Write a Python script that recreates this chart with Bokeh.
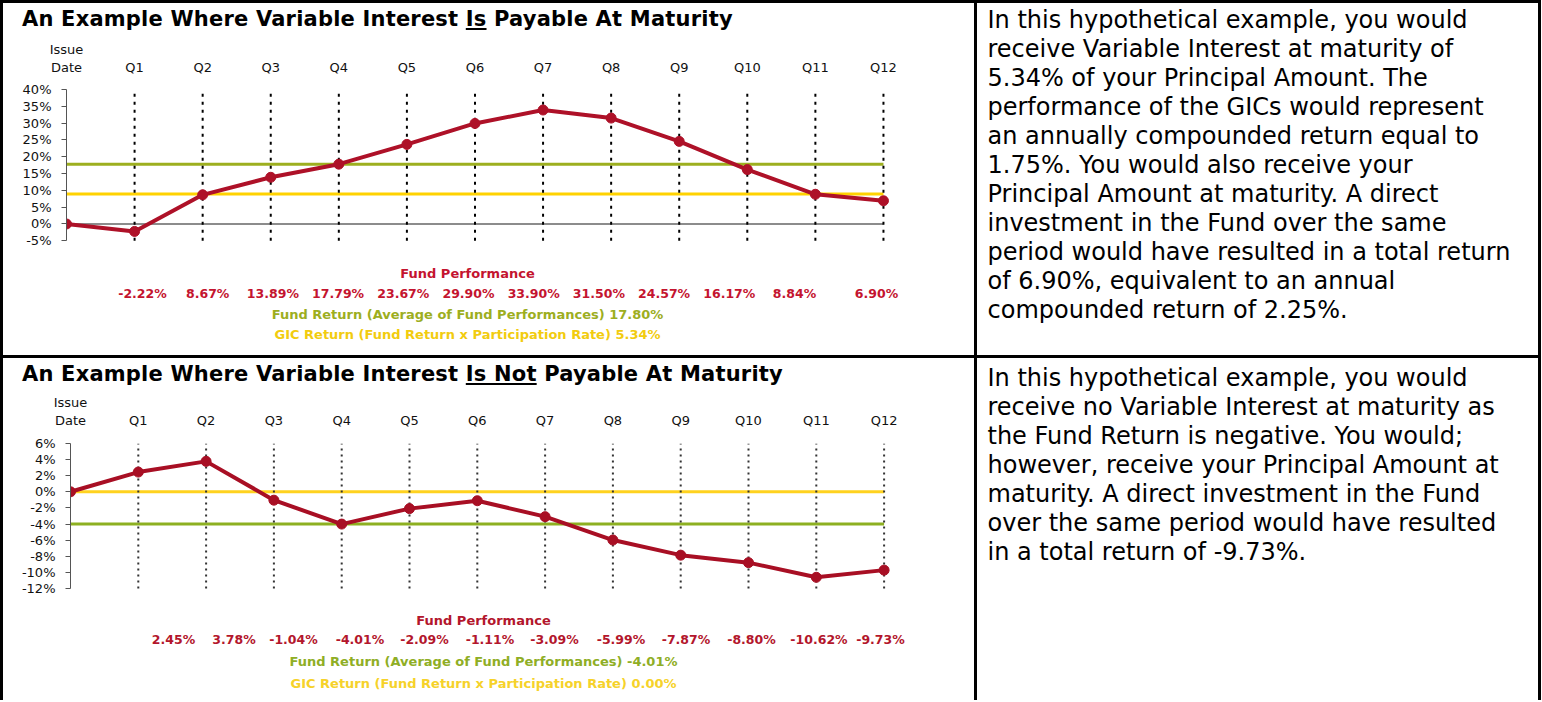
from bokeh.plotting import figure
from bokeh.layouts import row, column
from bokeh.models import Range1d, FixedTicker, PrintfTickFormatter, Div
from bokeh.core.properties import value
from bokeh.embed import file_html
from bokeh.resources import INLINE

# ---------------- data ----------------
categories = ["Issue\nDate", "Q1", "Q2", "Q3", "Q4", "Q5", "Q6", "Q7", "Q8", "Q9", "Q10", "Q11", "Q12"]

perf1 = [0.0, -2.22, 8.67, 13.89, 17.79, 23.67, 29.90, 33.90, 31.50, 24.57, 16.17, 8.84, 6.90]
fund_return1 = 17.80
gic_level1 = 8.9
gic_return1 = 5.34
yticks1 = [-5, 0, 5, 10, 15, 20, 25, 30, 35, 40]

perf2 = [0.0, 2.45, 3.78, -1.04, -4.01, -2.09, -1.11, -3.09, -5.99, -7.87, -8.80, -10.62, -9.73]
fund_return2 = -4.01
gic_level2 = 0.0
gic_return2 = 0.00
yticks2 = [-12, -10, -8, -6, -4, -2, 0, 2, 4, 6]

title_parts1 = ["An Example Where Variable Interest", "Is", "Payable At Maturity"]
title_parts2 = ["An Example Where Variable Interest", "Is Not", "Payable At Maturity"]

text1 = [
    "In this hypothetical example, you would",
    "receive Variable Interest at maturity of",
    "5.34% of your Principal Amount. The",
    "performance of the GICs would represent",
    "an annually compounded return equal to",
    "1.75%. You would also receive your",
    "Principal Amount at maturity. A direct",
    "investment in the Fund over the same",
    "period would have resulted in a total return",
    "of 6.90%, equivalent to an annual",
    "compounded return of 2.25%.",
]
text2 = [
    "In this hypothetical example, you would",
    "receive no Variable Interest at maturity as",
    "the Fund Return is negative. You would;",
    "however, receive your Principal Amount at",
    "maturity. A direct investment in the Fund",
    "over the same period would have resulted",
    "in a total return of -9.73%.",
]

# ---------------- styles ----------------
FONT_NAME = "DejaVu Sans"
FONT = value(FONT_NAME)
BORDER = 3
LEFT_W = 971
RIGHT_W = 561
TOTAL_W = LEFT_W + RIGHT_W + 3 * BORDER
ROW1_H = 352
ROW2_H = 342
TITLE_H = 30


def bar(w, h):
    return Div(width=w, height=h, margin=0, text="",
               styles={"background-color": "black"})


def blank(w, h):
    f = figure(width=w, height=h, toolbar_location=None, output_backend="svg",
               min_border=0, outline_line_color=None, title=None,
               x_range=Range1d(0, w), y_range=Range1d(h, 0))
    f.axis.visible = False
    f.grid.visible = False
    return f


def title_div(parts):
    html = (f'<div style="font-family:\'DejaVu Sans\';font-weight:bold;font-size:21px;'
            f'letter-spacing:0.2px;line-height:32px;padding-left:19px;white-space:nowrap;'
            f'color:#000;margin:0;">{parts[0]} '
            f'<span style="text-decoration:underline;text-decoration-thickness:2px;'
            f'text-underline-offset:2px;">{parts[1]}</span> {parts[2]}</div>')
    return Div(width=LEFT_W, height=TITLE_H, margin=0, text=html)


def text_fig(lines, h, y0):
    f = blank(RIGHT_W, h)
    f.text(x=[10] * len(lines), y=[y0 + 29 * i for i in range(len(lines))], text=lines,
           text_font=FONT, text_font_size="24px", text_align="left",
           text_baseline="middle", text_color="black")
    return f


def chart(perf, fund_return, gic_level, gic_return, yticks, h, top, left, step,
          px_per_pct, zero_line, dash, dash_color, red, green, yellow,
          t_red, t_green, t_yellow, foot_y, val_centers, foot_x, standoff):
    frame_w = LEFT_W - left
    frame_h = h - top
    yhi = max(yticks)
    ylo = yhi - frame_h / px_per_pct
    xs = list(range(len(perf)))
    p = figure(width=LEFT_W, height=h, x_range=Range1d(0, frame_w / step),
               y_range=Range1d(ylo, yhi), x_axis_location="above",
               min_border_left=left, min_border_top=top, min_border_right=0,
               min_border_bottom=0, output_backend="svg", toolbar_location=None,
               outline_line_color=None, title=None)
    p.grid.visible = False
    p.extra_x_ranges = {"px": Range1d(0, frame_w)}
    p.extra_y_ranges = {"px": Range1d(frame_h, 0)}

    xa = p.xaxis[0]
    xa.ticker = FixedTicker(ticks=xs)
    xa.major_label_overrides = {i: c for i, c in enumerate(categories)}
    xa.axis_line_color = None
    xa.major_tick_line_color = None
    xa.minor_tick_line_color = None
    xa.major_label_standoff = standoff
    xa.major_label_text_font = FONT_NAME
    xa.major_label_text_font_size = "13px"
    xa.major_label_text_color = "#111111"

    ya = p.yaxis[0]
    ya.ticker = FixedTicker(ticks=yticks)
    ya.formatter = PrintfTickFormatter(format="%d%%")
    ya.bounds = (min(yticks), max(yticks))
    ya.axis_line_color = "#555555"
    ya.major_tick_line_color = "#555555"
    ya.major_tick_out = 5
    ya.major_tick_in = 0
    ya.minor_tick_line_color = None
    ya.major_label_standoff = 10
    ya.major_label_text_font = FONT_NAME
    ya.major_label_text_font_size = "13px"
    ya.major_label_text_color = "#111111"

    last = xs[-1]
    if zero_line:
        p.segment(x0=[0], y0=[0], x1=[last], y1=[0], line_color="#8c8c8c", line_width=2)
    p.segment(x0=[0], y0=[fund_return], x1=[last], y1=[fund_return],
              line_color=green, line_width=3)
    p.segment(x0=[0], y0=[gic_level], x1=[last], y1=[gic_level],
              line_color=yellow, line_width=3)
    p.segment(x0=xs[1:], y0=[min(yticks)] * (len(xs) - 1), x1=xs[1:],
              y1=[max(yticks)] * (len(xs) - 1), line_color=dash_color,
              line_width=2, line_dash=dash)
    p.line(xs, perf, line_color=red, line_width=4)
    p.scatter(xs, perf, size=10, fill_color=red, line_color=red)

    common = dict(x_range_name="px", y_range_name="px", text_font=FONT,
                  text_font_style="bold", text_align="center", text_baseline="middle")
    p.text(x=[foot_x], y=[foot_y[0]], text=["Fund Performance"], text_color=t_red,
           text_font_size="13px", **common)
    p.text(x=val_centers, y=[foot_y[1]] * len(val_centers),
           text=[f"{v:.2f}%" for v in perf[1:]], text_color=t_red,
           text_font_size="12.5px", **common)
    p.text(x=[foot_x], y=[foot_y[2]],
           text=[f"Fund Return (Average of Fund Performances) {fund_return:.2f}%"],
           text_color=t_green, text_font_size="13px", **common)
    p.text(x=[foot_x], y=[foot_y[3]],
           text=[f"GIC Return (Fund Return x Participation Rate) {gic_return:.2f}%"],
           text_color=t_yellow, text_font_size="13px", **common)
    return p


centers1 = [76 + 65.2 * i for i in range(11)] + [810]
centers2 = [103, 163.5, 223, 289.5, 354, 419.5, 484, 550.5, 615.5, 681, 748.5, 810]

c1 = chart(perf1, fund_return1, gic_level1, gic_return1, yticks1, ROW1_H - TITLE_H,
           56, 63, 68.08, 3.362, True, "3 5", "black",
           "#AE1128", "#9DAF1F", "#FFD200", "#C4142F", "#9DAE1E", "#F2CC0F",
           [184, 204, 225, 245], centers1, 401, 9)
c2 = chart(perf2, fund_return2, gic_level2, gic_return2, yticks2, ROW2_H - TITLE_H,
           55, 67, 67.8, 8.05, False, "2 4", "#333333",
           "#A80F24", "#8DB021", "#FFD21F", "#B3162C", "#8FAE25", "#F6D22A",
           [177, 196, 218, 240], centers2, 413, 10)

r1 = row(bar(BORDER, ROW1_H), column(title_div(title_parts1), c1), bar(BORDER, ROW1_H),
         text_fig(text1, ROW1_H, 16), bar(BORDER, ROW1_H))
r2 = row(bar(BORDER, ROW2_H), column(title_div(title_parts2), c2), bar(BORDER, ROW2_H),
         text_fig(text2, ROW2_H, 19), bar(BORDER, ROW2_H))
layout = column(bar(TOTAL_W, BORDER), r1, bar(TOTAL_W, BORDER), r2)

open("out.html", "w").write(file_html(layout, INLINE))
